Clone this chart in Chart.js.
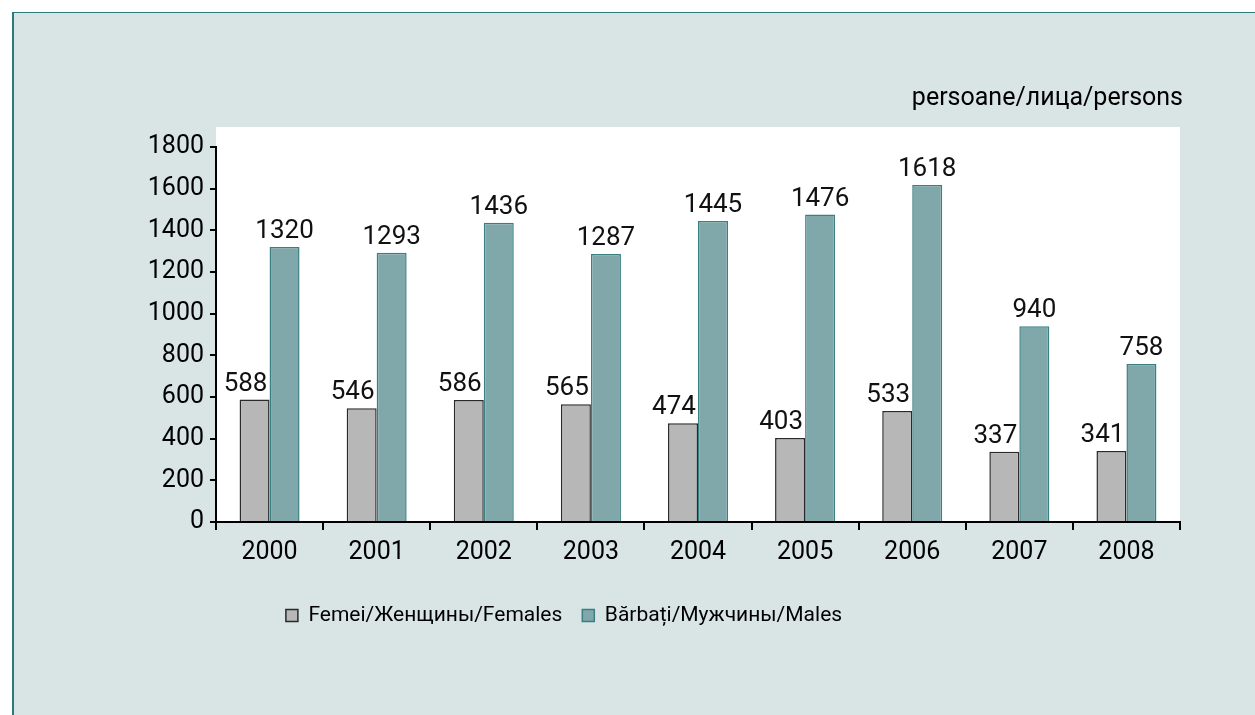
<!DOCTYPE html>
<html>
<head>
<meta charset="utf-8">
<script src="https://cdn.jsdelivr.net/npm/chart.js@4/dist/chart.umd.min.js"></script>
<style>
  html, body { margin: 0; padding: 0; background: #ffffff; width: 1255px; height: 715px; overflow: hidden; }
  #panel { position: absolute; left: 12px; top: 12px; width: 1243px; height: 703px; background: #d9e5e5;
           border-left: 2px solid #2b7b7b; border-top: 1px solid #2b7b7b; box-sizing: border-box; }
  #wrap { position: absolute; left: 0; top: 0; width: 1255px; height: 715px; }
</style>
</head>
<body>
<div id="panel"></div>
<div id="wrap"><canvas id="c" width="1255" height="715"></canvas></div>
<script>
const years = ['2000','2001','2002','2003','2004','2005','2006','2007','2008'];
const females = [588, 546, 586, 565, 474, 403, 533, 337, 341];
const males = [1320, 1293, 1436, 1287, 1445, 1476, 1618, 940, 758];
const yTicks = [0, 200, 400, 600, 800, 1000, 1200, 1400, 1600, 1800];
const femaleLabel = 'Femei/Женщины/Females';
const maleLabel = 'Bărbați/Мужчины/Males';
const unitLabel = 'persoane/лица/persons';

const FONT = "Roboto, 'Open Sans', sans-serif";

const plotBg = {
  id: 'plotBg',
  beforeDraw(chart) {
    const a = chart.chartArea, ctx = chart.ctx;
    ctx.save();
    ctx.fillStyle = '#ffffff';
    ctx.fillRect(a.left, a.top - 20, a.right - a.left, a.bottom - a.top + 20);
    ctx.fillStyle = '#000';
    ctx.font = '25px ' + FONT;
    ctx.textAlign = 'right';
    ctx.textBaseline = 'alphabetic';
    ctx.fillText(unitLabel, a.right + 3, a.top - 42);
    ctx.restore();
  }
};

const valueLabels = {
  id: 'valueLabels',
  afterDatasetsDraw(chart) {
    const ctx = chart.ctx;
    ctx.save();
    ctx.fillStyle = '#111';
    ctx.font = '26px ' + FONT;
    ctx.textAlign = 'center';
    ctx.textBaseline = 'alphabetic';
    chart.data.datasets.forEach((ds, i) => {
      const meta = chart.getDatasetMeta(i);
      const dx = i === 0 ? -9 : 0;
      meta.data.forEach((el, j) => {
        ctx.fillText(String(ds.data[j]), el.x + dx, el.y - 9);
      });
    });
    ctx.restore();
  }
};

const legendShift = {
  id: 'legendShift',
  afterLayout(chart) {
    const l = chart.legend;
    if (l) { l.left -= 26; l.right -= 26; }
  }
};

new Chart(document.getElementById('c'), {
  type: 'bar',
  data: {
    labels: years,
    datasets: [
      { label: femaleLabel, data: females, backgroundColor: '#b7b7b7', borderColor: '#2a2a2a', borderWidth: 1.5,
        categoryPercentage: 0.56, barPercentage: 1.0 },
      { label: maleLabel, data: males, backgroundColor: '#80a8ab', borderColor: '#3a8080', borderWidth: 1.5,
        categoryPercentage: 0.56, barPercentage: 1.0 }
    ]
  },
  options: {
    responsive: false,
    animation: false,
    layout: { padding: { top: 147, right: 75, bottom: 79, left: 0 } },
    plugins: {
      legend: {
        position: 'bottom',
        labels: { font: { family: FONT, size: 21 }, color: '#000', boxWidth: 12, boxHeight: 12, padding: 20 }
      },
      tooltip: { enabled: false }
    },
    scales: {
      x: {
        afterFit(s) { s.height = 63; },
        border: { display: true, color: '#000', width: 2 },
        grid: { display: true, drawOnChartArea: false, drawTicks: true, tickLength: 8, color: '#000', lineWidth: 2, offset: true },
        ticks: { font: { family: FONT, size: 25 }, color: '#000', padding: 8 }
      },
      y: {
        min: 0, max: 1800,
        afterFit(s) { s.width = 216; },
        afterBuildTicks(s) { s.ticks = yTicks.map(v => ({ value: v })); },
        border: { display: true, color: '#000', width: 2 },
        grid: { display: true, drawOnChartArea: false, drawTicks: true, tickLength: 6, color: '#000', lineWidth: 2 },
        ticks: { font: { family: FONT, size: 25 }, color: '#000', padding: 6, callback: (v) => String(v) }
      }
    }
  },
  plugins: [plotBg, valueLabels, legendShift]
});
</script>
</body>
</html>
